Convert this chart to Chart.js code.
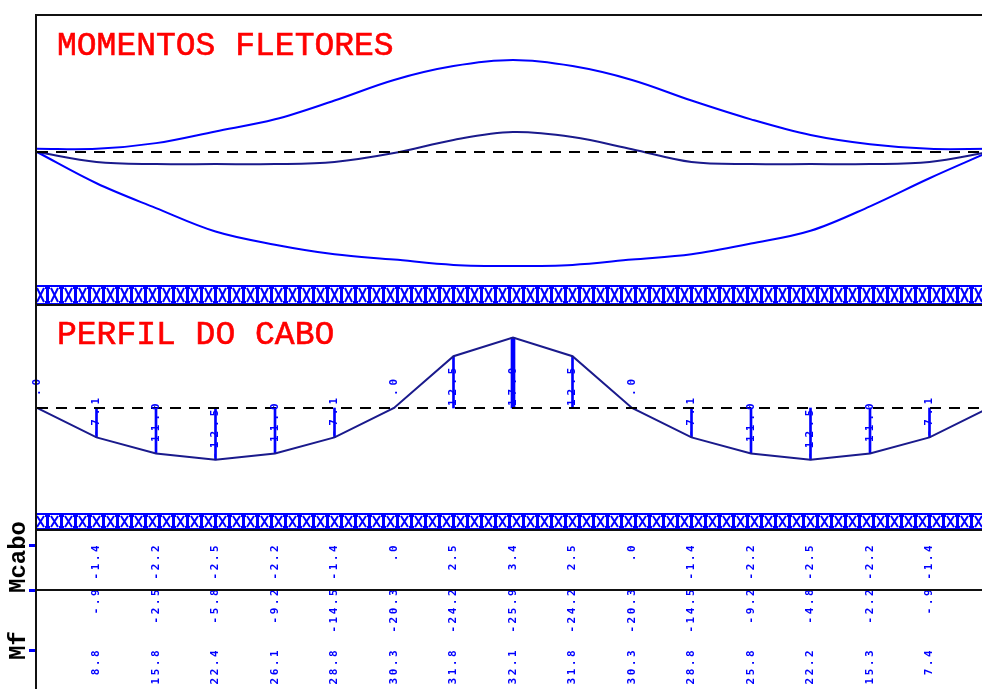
<!DOCTYPE html>
<html>
<head>
<meta charset="utf-8">
<script src="https://cdn.jsdelivr.net/npm/chart.js@4/dist/chart.umd.min.js"></script>
<style>
  html, body { margin: 0; padding: 0; background: #fff; }
  #wrap { position: relative; width: 982px; height: 689px; overflow: hidden; background: #fff; }
  .box { position: absolute; }
  #frame { position: absolute; left: 0; top: 0; z-index: 5; pointer-events: none; }
  .title { position: absolute; z-index: 6; font-family: 'Liberation Mono', 'Courier New', monospace;
           font-size: 33px; line-height: 1; color: #ff0000; white-space: pre; -webkit-text-stroke: 0.6px #ff0000; }
  .rowlab { position: absolute; left: 0; top: 0; z-index: 6; font-family: 'Liberation Mono', 'Courier New', monospace;
            font-weight: bold; font-size: 24px; line-height: 24px; color: #000; white-space: pre;
            transform-origin: 0 0; }
</style>
</head>
<body>
<div id="wrap">
  <div class="box" style="left:17px;top:15px;width:1000px;height:270px"><canvas id="cMomentos"></canvas></div>
  <div class="box" style="left:17px;top:305px;width:1000px;height:208px"><canvas id="cPerfil"></canvas></div>
  <div class="box" style="left:17px;top:530px;width:1000px;height:159px"><canvas id="cTabela"></canvas></div>
  <canvas id="frame" width="982" height="689"></canvas>
  <div class="title" style="left:57px;top:30px">MOMENTOS FLETORES</div>
  <div class="title" style="left:57px;top:319px">PERFIL DO CABO</div>
  <div class="rowlab" style="transform:translate(7px,593px) rotate(-90deg)">Mcabo</div>
  <div class="rowlab" style="transform:translate(7px,660px) rotate(-90deg)">Mf</div>
</div>
<script>
// Seções da viga (0 = apoio esquerdo, 16 = apoio direito)
const secoes = [0, 1, 2, 3, 4, 5, 6, 7, 8, 9, 10, 11, 12, 13, 14, 15, 16];

// Momentos fletores (positivo para baixo)
const momentoMinimo = [-0.9, -0.9, -2.5, -5.8, -9.2, -14.5, -20.3, -24.2, -25.9, -24.2, -20.3, -14.5, -9.2, -4.8, -2.2, -0.9, -0.9];
const momentoMaximo = [0, 8.8, 15.8, 22.4, 26.1, 28.8, 30.3, 31.8, 32.1, 31.8, 30.3, 28.8, 25.8, 22.2, 15.3, 7.4, 0];
const momentoIntermedio = [0, 2.8, 3.4, 3.4, 3.4, 2.8, 0.3, -3.4, -5.6, -4.2, -0.8, 2.8, 3.4, 3.4, 3.4, 2.8, 0];

// Excentricidade do cabo em cada seção
const excentricidade = [0, -7.1, -11.0, -12.5, -11.0, -7.1, 0, 12.5, 17.0, 12.5, 0, -7.1, -11.0, -12.5, -11.0, -7.1, 0];

// Momento do cabo (seções 1 a 15)
const momentoCabo = [-1.4, -2.2, -2.5, -2.2, -1.4, 0, 2.5, 3.4, 2.5, 0, -1.4, -2.2, -2.5, -2.2, -1.4];

const AZUL = '#0000ff';
const MARINHO = '#1a1a8c';

// número no formato do programa: sem zero à esquerda
function fmt(v) {
  let s = Math.abs(v).toFixed(1);
  if (s.charAt(0) === '0') s = s.slice(1);
  return (v < 0 ? '-' : '') + s;
}

function vtext(ctx, txt, x, y, align) {
  ctx.save();
  ctx.translate(x, y);
  ctx.rotate(-Math.PI / 2);
  ctx.textAlign = align;
  ctx.textBaseline = 'middle';
  ctx.fillText(txt, 0, 0);
  ctx.restore();
}

const base = {
  responsive: true,
  maintainAspectRatio: false,
  animation: false,
  events: [],
  layout: { padding: { left: 20, right: 28, top: 0, bottom: 0 } },
  plugins: { legend: { display: false }, tooltip: { enabled: false }, title: { display: false } }
};

const pts = arr => secoes.map((s, i) => ({ x: s, y: arr[i] }));
const linhaZero = () => ({
  type: 'line', data: [{ x: 0, y: 0 }, { x: 16, y: 0 }],
  borderColor: '#000', borderWidth: 2, borderDash: [11, 8], pointRadius: 0, tension: 0
});

// --- Momentos fletores ---
const KM = 3.55;
new Chart(document.getElementById('cMomentos'), {
  type: 'line',
  data: {
    datasets: [
      linhaZero(),
      { data: pts(momentoMinimo), borderColor: AZUL, borderWidth: 2, pointRadius: 0, tension: 0.35 },
      { data: pts(momentoIntermedio), borderColor: MARINHO, borderWidth: 2, pointRadius: 0, tension: 0.35 },
      { data: pts(momentoMaximo), borderColor: AZUL, borderWidth: 2, pointRadius: 0, tension: 0.35 }
    ]
  },
  options: {
    ...base,
    scales: {
      x: { type: 'linear', min: 0, max: 16, display: false },
      y: { min: -137 / KM, max: 133 / KM, reverse: true, display: false }
    }
  }
});

// --- Perfil do cabo ---
const KP = 4.14;
const rotulosPerfil = {
  id: 'rotulosPerfil',
  afterDatasetsDraw(chart) {
    const { ctx, scales: { x, y } } = chart;
    ctx.save();
    ctx.fillStyle = AZUL;
    ctx.font = 'bold 11px "DejaVu Sans Mono", monospace';
    ctx.letterSpacing = '4px';
    const y0 = y.getPixelForValue(0);
    for (let i = 0; i < secoes.length - 1; i++) {
      const e = excentricidade[i];
      const px = x.getPixelForValue(secoes[i]);
      let start;
      if (e < 0) start = y.getPixelForValue(e) - 1;
      else if (e > 0) start = y0 - 2;
      else start = y0 - 12;
      vtext(ctx, fmt(e), px, start, 'left');
    }
    ctx.restore();
  }
};

new Chart(document.getElementById('cPerfil'), {
  type: 'bar',
  data: {
    datasets: [
      linhaZero(),
      { type: 'line', data: pts(excentricidade), borderColor: MARINHO, borderWidth: 2, pointRadius: 0, tension: 0 },
      { type: 'bar', data: secoes.filter(s => s !== 8).map(s => ({ x: s, y: [0, excentricidade[s]] })),
        backgroundColor: AZUL, barThickness: 2, grouped: false },
      { type: 'bar', data: [{ x: 8, y: [0, excentricidade[8]] }],
        backgroundColor: AZUL, barThickness: 4, grouped: false }
    ]
  },
  options: {
    ...base,
    scales: {
      x: { type: 'linear', min: 0, max: 16, display: false, offset: false },
      y: { min: -105 / KP, max: 103 / KP, display: false }
    }
  },
  plugins: [rotulosPerfil]
});

// --- Tabela: Mcabo e Mf ---
const tabela = {
  id: 'tabela',
  afterDatasetsDraw(chart) {
    const { ctx, scales: { x } } = chart;
    ctx.save();
    ctx.fillStyle = AZUL;
    ctx.font = 'bold 11px "DejaVu Sans Mono", monospace';
    ctx.letterSpacing = '2.5px';
    for (let i = 1; i <= 15; i++) {
      const px = x.getPixelForValue(secoes[i]);
      vtext(ctx, fmt(momentoCabo[i - 1]), px, 13, 'right');
      vtext(ctx, fmt(momentoMinimo[i]), px, 57, 'right');
      vtext(ctx, fmt(momentoMaximo[i]), px, 118, 'right');
    }
    ctx.restore();
  }
};

new Chart(document.getElementById('cTabela'), {
  type: 'line',
  data: { datasets: [{ data: [], pointRadius: 0 }] },
  options: {
    ...base,
    scales: {
      x: { type: 'linear', min: 0, max: 16, display: false },
      y: { min: 0, max: 1, display: false }
    }
  },
  plugins: [tabela]
});

// --- Moldura e faixas hachuradas ---
(function () {
  const c = document.getElementById('frame');
  const ctx = c.getContext('2d');

  function faixa(y0, y1) {
    const x0 = 36, x1 = 982;
    ctx.fillStyle = '#ffffff';
    ctx.fillRect(x0, y0, x1 - x0, y1 - y0);
    ctx.fillStyle = AZUL;
    ctx.fillRect(x0, y0, x1 - x0, 2);
    ctx.fillRect(x0, y1 - 2, x1 - x0, 2);
    ctx.strokeStyle = AZUL;
    ctx.lineWidth = 2;
    for (let x = x0 + 1; x < x1; x += 14) {
      ctx.beginPath();
      ctx.moveTo(x, y0 + 3); ctx.lineTo(x + 7, y1 - 3);
      ctx.moveTo(x + 7, y0 + 3); ctx.lineTo(x, y1 - 3);
      ctx.stroke();
      ctx.fillRect(x + 9, y0 + 3, 3, y1 - y0 - 6);
      ctx.fillRect(x + 8, y0 + 2, 5, 2);
      ctx.fillRect(x + 8, y1 - 4, 5, 2);
    }
  }

  faixa(285, 305);
  faixa(513, 530);

  ctx.fillStyle = '#111';
  ctx.fillRect(36, 14, 946, 2);     // borda superior
  ctx.fillRect(35, 14, 2, 675);     // borda esquerda
  ctx.fillRect(36, 304, 946, 2);
  ctx.fillRect(36, 529, 946, 2);
  ctx.fillRect(36, 589, 946, 2);

  ctx.fillStyle = AZUL;
  [545, 590, 650].forEach(y => ctx.fillRect(29, y - 1, 6, 3));
})();
</script>
</body>
</html>
